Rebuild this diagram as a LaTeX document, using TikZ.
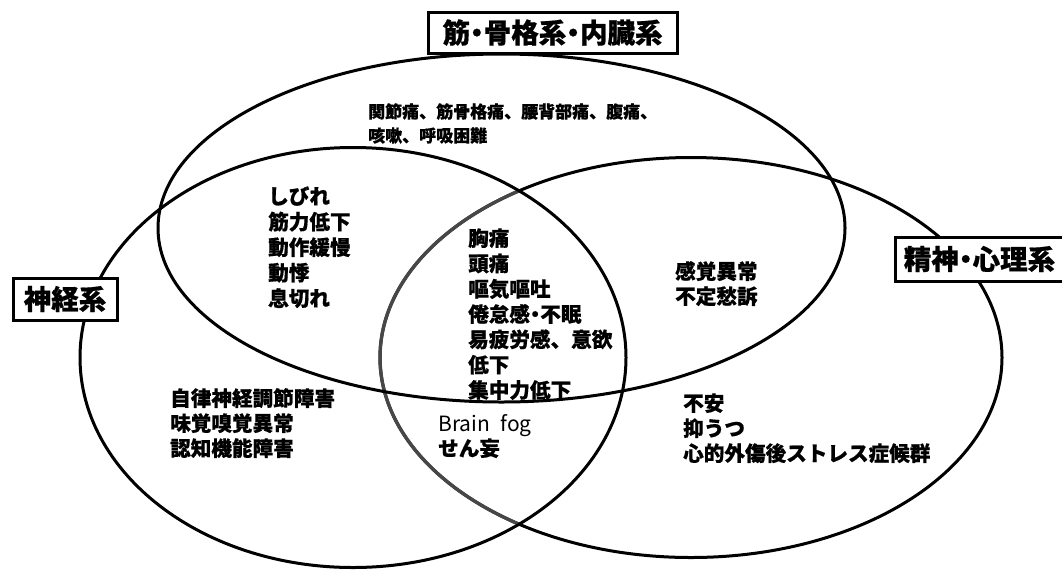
\documentclass[tikz,border=0pt]{standalone}
\usepackage{fontspec}
\newfontfamily\jp{Noto Sans CJK JP}[BoldFeatures={FakeBold=0.6}]
\newcommand\hdot{\makebox[0.5em][c]{・}}
\begin{document}
\begin{tikzpicture}[x=1pt,y=-1pt,
  ring/.style={line width=3pt,draw=black},
  grayring/.style={line width=3.4pt,draw=black!72},
  label/.style={draw=black,line width=3pt,fill=white,inner sep=0pt,font=\jp\bfseries\fontsize{27.5}{30}\selectfont},
  item/.style={anchor=base west,inner sep=0pt,font=\jp\bfseries\fontsize{20.6}{24}\selectfont},
  smallitem/.style={anchor=base west,inner sep=0pt,font=\jp\bfseries\fontsize{17}{20}\selectfont},
  latin/.style={anchor=base west,inner sep=0pt,font=\jp\fontsize{21}{24}\selectfont}]
\useasboundingbox (0,0) rectangle (1062,571);
\fill[white] (0,0) rectangle (1062,571);
% ellipses
\draw[ring] (691,357.5) ellipse [x radius=311pt, y radius=200pt];
\begin{scope}
  \clip (353,357.5) ellipse [x radius=273pt, y radius=210pt];
  \draw[grayring] (691,357.5) ellipse [x radius=311pt, y radius=200pt];
\end{scope}
\draw[ring] (353,357.5) ellipse [x radius=273pt, y radius=210pt];
\draw[ring] (501.5,228) ellipse [x radius=343.5pt, y radius=174pt];
% labels
\node[label,minimum width=249pt,minimum height=41pt] (musc) at (552.5,32.5) {筋\hdot 骨格系\hdot 内臓系};
\node[label,minimum width=104pt,minimum height=42pt] (neuro) at (65,299) {神経系};
\node[label,minimum width=168pt,minimum height=44pt,anchor=west] (psych) at (894,259) {精神\hdot 心理系};
% top text
\node[smallitem] (t1) at (368,118) {関節痛、筋骨格痛、腰背部痛、腹痛、};
\node[smallitem] (t2) at (368,142) {咳嗽、呼吸困難};
% muscle & neuro overlap
\foreach \t [count=\i] in {しびれ,筋力低下,動作緩慢,動悸,息切れ}
  \node[item] (mn\i) at (268,{204+25.5*(\i-1)}) {\t};
% center
\foreach \t [count=\i] in {胸痛,頭痛,嘔気嘔吐,倦怠感\hdot 不眠,易疲労感、意欲,低下,集中力低下}
  \node[item] (c\i) at (468,{246+25.3*(\i-1)}) {\t};
% neuro only
\foreach \t [count=\i] in {自律神経調節障害,味覚嗅覚異常,認知機能障害}
  \node[item] (n\i) at (170,{406+25*(\i-1)}) {\t};
% neuro & psych
\node[latin] (bf) at (438,431) {Brain\hspace{0.5em}fog};
\node[item] (sm) at (438,456) {せん妄};
% muscle & psych
\node[item] (mp1) at (675,279) {感覚異常};
\node[item] (mp2) at (675,304) {不定愁訴};
% psych only
\foreach \t [count=\i] in {不安,抑うつ,心的外傷後ストレス症候群}
  \node[item] (p\i) at (683,{411+25*(\i-1)}) {\t};
\end{tikzpicture}
\end{document}
